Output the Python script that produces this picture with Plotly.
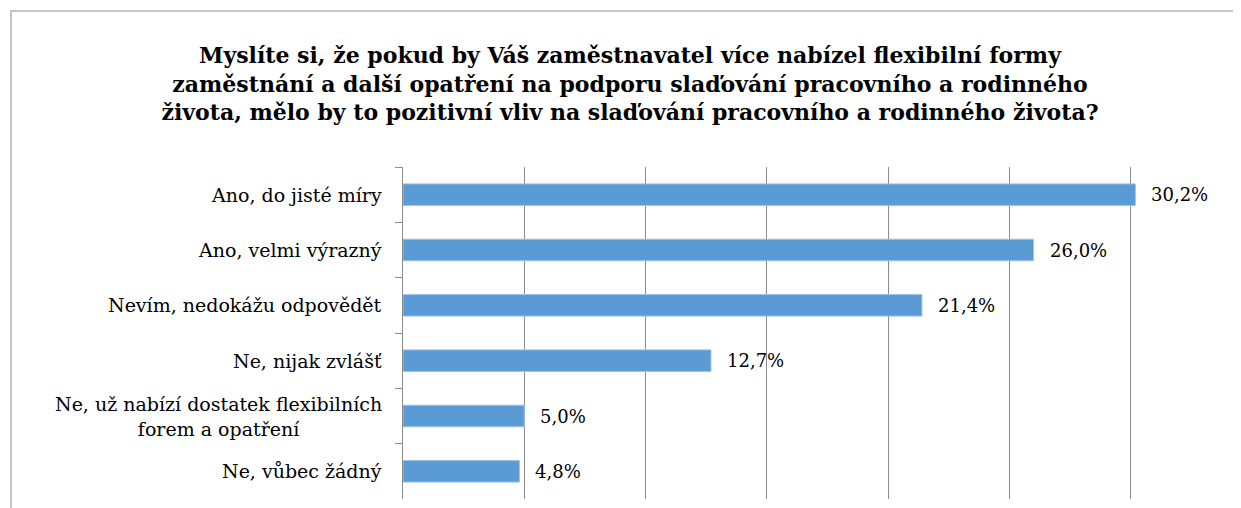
import plotly.graph_objects as go

categories = [
    "Ano, do jisté míry",
    "Ano, velmi výrazný",
    "Nevím, nedokážu odpovědět",
    "Ne, nijak zvlášť",
    "Ne, už nabízí dostatek flexibilních<br>forem a opatření",
    "Ne, vůbec žádný",
]
values = [30.2, 26.0, 21.4, 12.7, 5.0, 4.8]
title_text = ("Myslíte si, že pokud by Váš zaměstnavatel více nabízel flexibilní formy<br>"
              "zaměstnání a další opatření na podporu slaďování pracovního a rodinného<br>"
              "života, mělo by to pozitivní vliv na slaďování pracovního a rodinného života?")

OFF = 8
W, H = 1241 - OFF, 508 - OFF
L, R, T, B = 403 - OFF, 1, 167 - OFF, 9
SERIF = "DejaVu Serif"
GRID = "#8c8c8c"

fig = go.Figure()
fig.add_trace(go.Bar(
    x=values, y=categories, orientation="h",
    marker=dict(color="#5B9BD5", line=dict(color="#9DC3E6", width=1)),
    width=0.39, hoverinfo="skip",
))

annotations = []
for c, v in zip(categories, values):
    annotations.append(dict(
        x=0, xref="paper", y=c, yref="y", text=c, showarrow=False,
        xanchor="right", yanchor="middle", align="center", xshift=-19,
        font=dict(family=SERIF, size=19, color="#000000"),
    ))
    annotations.append(dict(
        x=v, xref="x", y=c, yref="y", text=f"{v:.1f}".replace(".", ",") + "%",
        showarrow=False, xanchor="left", yanchor="middle", xshift=14,
        font=dict(family=SERIF, size=18, color="#000000"),
    ))

plot_w = W - L - R
plot_h = H - T - B
def px2paper_x(px):
    return (px - OFF - L) / plot_w
def px2paper_y(py):
    return (H - B - (py - OFF)) / plot_h

fig.update_layout(
    width=W, height=H,
    margin=dict(l=L, r=R, t=T, b=B, pad=0),
    paper_bgcolor="white", plot_bgcolor="white",
    showlegend=False,
    title=dict(
        text=title_text, x=(630 - OFF) / W, xanchor="center", xref="container",
        y=1 - 55 / H, yanchor="top", yref="container",
        font=dict(family=SERIF, size=22, color="#000000", weight="bold"),
    ),
    xaxis=dict(
        range=[0, plot_w / 24.25], dtick=5, tick0=0,
        showgrid=True, gridcolor=GRID, gridwidth=1,
        showticklabels=False, zeroline=False, showline=False, ticks="",
    ),
    yaxis=dict(
        categoryorder="array", categoryarray=categories, autorange="reversed",
        showticklabels=False, showline=True, linecolor=GRID, linewidth=1,
        ticks="outside", ticklen=7, tickcolor=GRID, tickwidth=1, tickson="boundaries",
        showgrid=False, zeroline=False,
    ),
    annotations=annotations,
    shapes=[dict(
        type="rect", xref="paper", yref="paper", layer="below",
        x0=px2paper_x(11), x1=px2paper_x(1241 + 20),
        y0=px2paper_y(508 + 20), y1=px2paper_y(11),
        line=dict(color="#b3b3b3", width=1.5), fillcolor="rgba(0,0,0,0)",
    )],
)

fig.write_html("out.html")
